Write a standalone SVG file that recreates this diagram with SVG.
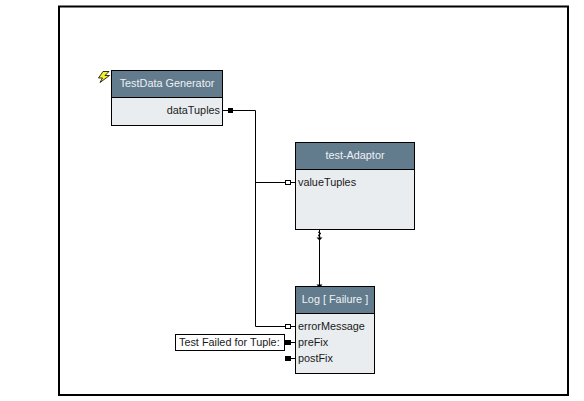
<svg xmlns="http://www.w3.org/2000/svg" width="584" height="401" viewBox="0 0 584 401">
<style>
text{font-family:"Liberation Sans",Arial,sans-serif;font-size:10.85px;fill:#1a1a1a}
.t{fill:#eef2f5;text-anchor:middle}
.h{fill:#627b8d;stroke:#000;stroke-width:1}
.b{fill:#e9edf0;stroke:#000;stroke-width:1}
.c{fill:none;stroke:#000;stroke-width:1}
.po{fill:#fff;stroke:#000;stroke-width:1}
.pf{fill:#000}
</style>
<rect x="0" y="0" width="584" height="401" fill="#fff"/>
<rect x="59" y="6.500" width="509" height="388.500" fill="none" stroke="#000" stroke-width="2"/>
<g id="connectors">
<path class="c" d="M222 110.500H255.500V326.500H287"/>
<path class="c" d="M255.500 182.500H287"/>
<path class="c" d="M291 182.500H295M291 326.500H295M291 342.500H295M291 358.500H295"/>
<path class="c" d="M319.500 230V287"/>
<path class="c" d="M318 232L321 233.500L318 235.500L320.500 237"/>
<path class="pf" d="M316.500 237.500H322.500L319.500 240.500ZM316.500 284.500H322.500L319.500 288Z"/>
</g>
<g id="node-generator">
<rect class="b" x="111.500" y="97.500" width="111" height="28"/>
<rect class="h" x="111.500" y="70.500" width="111" height="27"/>
<text class="t" x="167" y="87">TestData Generator</text>
<text x="220" y="114" text-anchor="end">dataTuples</text>
<rect class="pf" x="228" y="108" width="5" height="5"/>
<path d="M103 71.500L98.500 78H102.500L100 82.500L109.500 75.500H105L109 71.500Z" fill="#f6ee30" stroke="#000" stroke-width="0.800"/>
</g>
<g id="node-adaptor">
<rect class="b" x="295.500" y="169.500" width="119" height="60"/>
<rect class="h" x="295.500" y="142.500" width="119" height="27"/>
<text class="t" x="355" y="159">test-Adaptor</text>
<text x="298" y="186">valueTuples</text>
<rect class="po" x="285.500" y="180.500" width="5" height="4"/>
</g>
<g id="node-log">
<rect class="b" x="295.500" y="313.500" width="79" height="60"/>
<rect class="h" x="295.500" y="286.500" width="79" height="27"/>
<text class="t" x="335" y="303">Log [ Failure ]</text>
<text x="298" y="330">errorMessage</text>
<text x="298" y="346">preFix</text>
<text x="298" y="362">postFix</text>
<rect class="po" x="285.500" y="324.500" width="5" height="4"/>
<rect class="pf" x="285" y="340" width="6" height="5"/>
<rect class="pf" x="285" y="356" width="6" height="5"/>
</g>
<g id="label-test-failed">
<rect x="175.500" y="334.500" width="109" height="16" fill="#fff" stroke="#000"/>
<text x="179" y="346">Test Failed for Tuple:</text>
</g>
</svg>
